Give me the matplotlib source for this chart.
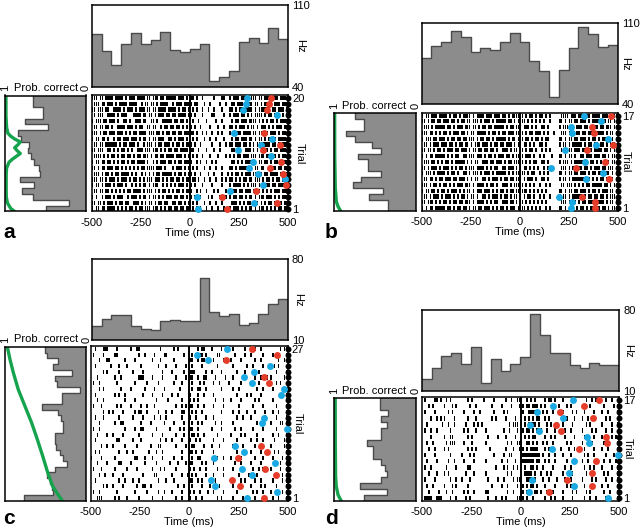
import numpy as np
import matplotlib
matplotlib.use("Agg")
import matplotlib.pyplot as plt

plt.rcParams['font.family'] = ['Liberation Sans', 'DejaVu Sans']

# ---------------- data ----------------
psth_a = [85.4, 70.3, 58.9, 76.6, 86.3, 76.6, 79.7, 87.1, 71.1, 69.7,
          72.6, 76.6, 44.9, 48.0, 53.1, 78.0, 82.0, 77.1, 90.0, 80.6]
psth_b = [79.8, 90.7, 94.2, 103.4, 98.5, 84.7, 88.4, 87.2, 93.6, 101.9,
          94.2, 76.9, 68.8, 46.4, 69.7, 88.4, 106.5, 100.5, 89.8, 91.0]
psth_c = [22.1, 27.9, 31.4, 31.4, 22.4, 19.8, 18.7, 26.5, 27.3, 26.5,
          26.5, 63.5, 34.0, 30.8, 32.8, 23.0, 25.0, 32.3, 41.2, 45.6]
psth_d = [20.1, 29.6, 40.5, 42.6, 33.1, 48.3, 17.2, 37.4, 27.3, 33.1,
          39.7, 76.3, 58.4, 42.6, 42.6, 32.5, 29.6, 33.9, 32.5, 32.5]
hz_a = (40, 110)
hz_b = (40, 110)
hz_c = (10, 80)
hz_d = (10, 80)

# raster rows, top trial first; each char = 10 ms from -500 ms, '#' = spike
raster_a = [
    "###.##.### #.####.#.# ##.####.## .###.##.## ###.###.#. ##.#..#... ..#...##.. #.###.#### .###.##.## ##.##.###.",
    ".###.##.## #.#.####.# ###..#.##. ##.#.####. .#.###.### #.##...#.. #....#..#. .##.###.## ##.##.#.## .#.###.###",
    "##.###.##. .####.#.## #.#.###.## .##.####.# ###.#.##.# .#.#..#..# ..#...#... ##.#.##.## ##.#.##### #.##.###.#",
    ".#.###..## ##.#.###.. .####.##.# #.#.###.## .##.####.# #.#...#... .##....#.. #.###.##.# .#.####.#. ##.###.#.#",
    "#.###.##.# ##.#..##.# ..###.##.. ##.#..#### #.##.##.#. .#..#...#. ...#..#... .#.##.###. ####.#.#.# .##.#.####",
    ".##.##.##. #..####.## #.#.##..## .##..#.##. ##.##.#.#. #.#..#.... #...#..#.. ##.#.###.# .##.#.###. #.#.###.##",
    "###.#.##.# ##.###.#.# .##.####.# ##.##.#.## .##.##.### ##.#..#.#. .#..#.#... #.#.##.### #.##.###.# .###.#.##.",
    "#.##.##.#. .#.##.###. ###.#.##.# .##.###..# #.#.###.#. .#.#...#.. #..#...#.. .#.##.###. ##.#.##.#. ##.#.####.",
    ".##.##.### ###.#.##.# ##.#..#.## #.#.##.### .#.##.#.## #.#..#.... .#...#..#. ##.###.##. #.#.##.### #.##.#.###",
    "##.###..## .#.#.##.#. #..###.### .###.#.#.# #.##.####. ##..#...#. ..#..#.... .##.##..## #.#.#.##.# .#.##.###.",
    ".####.#.#. ##.#.##.## .#.##.###. #.##.##.## ##.###.#.# .#.#..#... #...#...#. #.#.##.### .###.###.# ##.#.#.##.",
    "#.##.##.## .#.#.##.#. ##.####.#. .#.#.###.# #.#.##.### #..#.#..#. .#.#...... .##.#.#.## ##.#.##.## .#.##.####",
    "##.#.##.## #.##.#.#.# .#.#.##.## ##.###.#.. .#.###.#.# .#.#...#.. #..#..#... ##.#.####. .#.##.##.. #.##.##.##",
    ".###.#.##. #.##.####. #.#..#.#.# .#.##.#### #.#.##.#.# #.#..#...# ..#...#..# .#.##.#.## #.##.##.## .####.#.##",
    "###.##.#.# ##.#.###.# .##.#.#.## #.###.#.#. ##.##.#.## .##.#..#.. #..#..#.#. ##.#.#.##. ##.###.#.# #.#.##.##.",
    "#.##.#.### .#.###.#.. #.#.#.##.# .###..#.#. #.#.###.#. #.#...#... .#....#... #.####.#.# .###.#.#.# #.##.###.#",
    ".##.##.##. #.#.#.#.## .####.#.## #.#.#.##.# .#.##.#.## #..#.#..#. ..#.#...#. .###.##.## #.#.##.#.# .#.###.###",
    "#.#..#.### .#.###..#. ###.#.##.# .##.#.#.## #.##.##.#. #.#..#...# .#...#..#. #.##.##.#. ##.#.###.# ##.#.#.###",
    "##.##.#.## #.#.##.##. .###.#.#.# #.#.##.##. .##.##.#.# .#.#...#.. #..#..#... .###.#.#.# #.###.#.#. ##.##.#.##",
    "#.##.##.## ##.#.#.#.# #.#.##.### .###.#.#.# #.##.##.## .#.#.#..#. .#..#..#.. #.###.#.#. ##.#.###.# .#.#.##.##",
]
raster_b = [
    "#.##.###.# ###.#.##.# .####.#.## ##.###.### .##.#.#### ##.#.##.#. ##.#.#.... .####.###. ###.##.### #.###.#.##",
    "##.#.##.## .###.##.#. ##.##.###. #.###.#.## ###.##.#.# .##.#.#.#. #.#..#.... ##.#.##.## .###.#.### ##.#.##.#.",
    ".###.#.### ##.##.#.## #.###.##.# .##.##.### ##.#.##.## #.###.#.#. .##.#..... #.###.##.# ##.##.#### .##.###.##",
    "###.##.#.# .##.#.###. ##.#.##.## ###.#.##.# .##.###.## ##.#.##.## #.#.#..#.. .###.###.# #.##.###.# ###.#.##.#",
    "#.###.##.# ##.#.##.## .##.###.#. ##.##.#.## ###.#.##.# .#.##.#.## .#.##..... ##.#.##.## .###.#.##. #.###.##.#",
    ".##.#.###. ###.##.#.# #.##.#.### .###.#.##. ##.###.#.# #.##.#.#.. ##.#...... #.##.#.### ##.#.##.## .##.#.###.",
    "##.##.#.## .#.###.##. ###.#.##.# #.##.##.#. .###.#.##. ##.#.##.#. .#.#.#.... .##.###.## #.###.#.## ##.##.#.##",
    "#.#.##.### ##.#.#.##. .##.###.## #.#.##.#.# ##.##.#.## .#.###.#.. #.#...#... ##.#.##.#. .##.###.## #.##.#.###",
    ".###.##.#. #.##.#.### ##.#.#.##. .###.##.## #.#.##.### ##.#.#.##. .##.#..... #.###.#.## ###.#.##.# .#.###.##.",
    "##.#.###.# .###.#.#.# #.#.###.## ##.#.#.##. .##.###.#. #.##.#.#.# ..#.##.... .###.#.### ##.##.#.## #.##.###.#",
    "#.###.#.## ##.#.##.#. .##.#.###. #.###.#.## ###.#.#.## .##.#.##.. #.#.#..... ##.#.##.## .###.#.##. ##.###.#.#",
    ".##.##.#.# #.###.##.# ##.#.#.##. .##.#.###. #.##.##.## #.#.###.#. .##.#..... #.##.#.### ###.##.#.# .##.#.##.#",
    "###.#.##.# .##.#.#.## #.###.#.## ##.#.##.#. .###.#.### ##.#.#.#.. #..#.#.... .##.###.#. #.#.##.### ##.##.#.##",
    "#.##.##.#. ##.#.###.# .#.##.#.## #.###.#.#. ##.#.##.## .###.#.#.# .#.#...... ##.#.##.## .###.#.##. #.###.##.#",
    ".##.#.###. #.###.#.#. ##.#.##.#. .##.#.###. #.##.#.##. #.#.##.#.. #.#..#.... #.##.#.### ##.#.##.## .##.#.###.",
    "##.###.#.# .##.#.##.# #.###.#.## ##.#.#.##. .###.##.#. ##.#.#.#.# .#.#...... .###.#.##. #.##.###.# ###.#.##.#",
    "#.#.##.### ##.##.#.## .##.#.##.# #.###.#.#. ##.#.###.# .##.#.#.#. #..#.#.... ##.#.###.# .##.#.##.# #.##.#.###",
]
raster_c = [
    "..#...###. ...#...... #..##..... .....#.... ..#.#..... ....#.##.. .#....#... ..#.....#. ...#..#... ......#.##",
    ".#....#... ..##...... ....#..#.. ..#....##. .......#.. .#...##.#. ....##.... ...#....#. .#.....#.. ..#.#....#",
    "....#...## .......#.. ..#....... .#...#.... ..#....... ##..#.##.. ..#....#.. .#....#... ...#..#... .....#..#.",
    "..#....... #...#...#. .....#.... ....#...#. ...#....#. .#....#... ....#..... ..#......# ..#....#.. ...#.#....",
    "......#.#. ....#..... .#....#... ......#... .#.....#.. ###.....#. .#....#... ....#...#. .....#.... ....#....#",
    "...#...... ..#..#.... ....###... .#....#... ...#....#. ##..#..##. ...#....#. ..#....... ...#..#..# .#......#.",
    ".#..#..... ...#...... ..#.....#. ....#..... ..#...#... .#...#.#.. ..#..#.... #.....#... ..#..#.... ....#.#...",
    "....#.#... .....#.... #......#.. ..#....#.. .....#.... .#..##..#. ......#... ..#..#.... ....#..#.. ..#.....##",
    "..#....... ..#.#..#.. ......#... .#....#... .#..#..... #...#..#.. ..#....... ....#....# .#....#... ......#..#",
    "...#..#... .......#.. ..#....... ...#.....# ......#... #.#.#..... ...#...#.. .#....#... ...#.#.... ..#......#",
    ".#...#.... ...#.#.... #....#..#. ..#....... ...#..#.#. ##..#..#.. ..#....#.. .....#.... ..#....#.. ....#....#",
    "......#..# .#....#... ..#.##..#. ....#...#. .#....##.. .#.#..#... ......#... ..#..#...# ...#....#. ..#..#...#",
    "..#...#... ....#..... .#....#... ..#..#..#. ......#... #..#....#. ..#....... ....#..#.. .#......#. ....#....#",
    "....#..... ..#..##... .....#.... #......#.. ..#....#.. .#..#.#... ...#..#... ..#....... ....#.#... .#....##.#",
    ".#..#..... .......#.. ..#..##... ...#...... #....#.#.. ##..#..... .#....#... ...#..#... ..#....#.. ....#....#",
    "...#....#. .#....#... ....#..... .#....#... ...#...#.. .##.#..#.. ....#..... .#....#.#. ....#..... ..#..#...#",
    "..#....... ...##..... .#...#.... .....#..#. .#....#... #..#.#.... ..#....#.. ....#..... .#..#..#.. ...#....##",
    ".....#..#. .#.....#.. ...#...... #...##.... ...#....#. .##....#.. .#...#.... ..#....#.. ...#..#... .#......##",
    "..#.#..... ....#...#. .#.......# ...#..#... ......#... ##.#..#... ..#....... ....#..#.. .#....#... ...#.#...#",
    "#....#.... ..#....... ..##...#.. .#....#... ..#...#... .#..##.... ....#..#.. .#....#... ...#...#.. ..#....#.#",
    "...#....#. ....##.... #......#.. ...#...... #...#...#. ##....#.#. ..#....... ...#..#... .#....#... ......#..#",
    ".#...#.... ..#.....#. ...#...... .#...#.#.. ...#...... #.#..#..#. ....#..#.. ..#....... ..#..#.#.. .#....#..#",
    "....#..#.. .#....#... ......#... ..##...... .#....#..# .#.#....#. ..#....#.. .....#.... #...#..... ...#...#.#",
    "..#....... ....#..#.. .#..#..... ....#...#. ..#....... ##..#.#... ...#...... .#....#.#. ...#..#... ..#....#.#",
    "......#.#. .#....#... ...#..##.. #......... ....#..#.. .#....#... #....#.... ..#....... .#....#.#. ....#....#",
    ".#..#..... ...#...... ..#.....#. ....#..#.. .#....#... #.#..#...# ..#....#.. ....#..... ..#.#..#.. .#.....#.#",
    "...###.... ..#.#...#. ....#..... .#....#... ...#..#... #..#..#... ....#.#... ..#....#.. ...#....#. ..#..#...#",
]
raster_d = [
    ".#....##.# ..#.#..... ...#.#.... .#....#... ..#..#..## #..#.#.#.. ..#.##.#.. .#....#... ...#..#.#. ...#..#...",
    "...#.#.... .#...#.#.. ....#..#.. .....#.... #....#...# .#.##.###. #.#...#..# ...#.#.... .#...#.... ..#....#.#",
    ".#....#... ...#.#.... .#....#..# ......#... .#.#...... .#..####.# .#.#..#... .#....#.#. ..#....#.. .#..#....#",
    "....#..#.# .#....#... ...#...#.. .....#.#.. ..#....#.. #.#.#.#.## ..#.#..... ...#...#.. .#..#..#.. ...#.#....",
    "..#....... #..#..#... ..#...#.#. #......... ....#.###. #.#.####.# ...#.#..#. .#....#... ...#.#.... .#....#..#",
    ".#..#..#.. ....#..... .#.#...#.. ..#....... .#..#...#. .#.##.#.## #..#...#.. ..#..#.... .#....#.#. ...#..#...",
    "....#..... .#..##.... ...#.#.... ...#....#. ..#....#.. #.#.#.##.. ..#..#.#.. ..#....#.. ..#.#..#.. .#....#.#.",
    "..#..#.... ..#.###... .#...#.... ..#....... ...#.#..## #..##.#.#. .#.#..#... ...#.#.... .#....#... ..#.#....#",
    "...#..#... .#.#...... ...#.#.#.. ....#..... ..#...#..# .#.#.####. ..#.#..... #...#..#.. ..#....#.. .#..#....#",
    ".#....#... ....#..... #...#.#... ......#... .#..##.... .######### .#..#..#.. .#...#.... ..#.#..#.. ...#...#.#",
    "..#....#.. ...#..#... .#....#... ..#....... #..#...#.. .######.## ..#.#..#.. ...#....#. .#..#..... ..#..#..#.",
    ".#..#..... ..#....#.. ...##..... .......#.. .#.#..#.#. #.#..##.#. .#....#... ..#..#.... ..#..#.#.. .#....#..#",
    "...#...#.. .#.#...... ..#...#... ..#....... ...#.#.... #.####.#.. #..#.#.... .#....#... ...#..#... ..#.#....#",
    ".#....#... ....#..#.. #...#..... ...#....#. .#....#.## #..###.#.. .#..#...#. ..#..#.... .#....#.#. ...#..#..#",
    "..#..#.... .#...#.#.. ...#...... .....#.... #..#....#. .#.#.##.#. ..#....#.. ...#.#.... ..#....#.. .#..#....#",
    "...#....#. ..#..#.... .#.#..#... ..##...... ...#..#... ##.#.#.##. #..#..#... .#....#.#. ...#.#.... ..#..#...#",
    ".####..### ....#..#.. ..#.#..... ...#...#.. #.#.....## .#.#..#... ..#..#.#.. .#....#... ..#..#..#. ...#.#...#",
]

nan = float('nan')
# event times (ms), top trial first
blue_a = [292, 284, 270, 445, nan, nan, 224, 420, 360, 246, 415, 323, 300, 348, 485, 372, 207, 37, 326, 42]
red_a = [415, 403, 394, nan, nan, nan, 377, nan, 459, 372, nan, 466, 408, 476, nan, 491, 335, 164, 442, 190]
blue_b = [329, 415, 264, 269, 449, 389, 232, nan, 334, 158, 428, 338, nan, nan, 201, 269, 264]
red_b = [466, nan, 372, 380, nan, 478, 346, nan, 437, 286, nan, 457, nan, nan, 321, 385, 384]
blue_c = [195, 39, 98, 412, 331, 280, 322, 483, 466, nan, nan, nan, 381, 369, 497, nan, nan,
          234, 280, 124, 437, 271, 319, 112, 132, 449, 293]
red_c = [322, 449, 188, nan, nan, 381, 408, nan, nan, nan, nan, nan, nan, nan, nan, nan, nan,
         364, 398, 251, nan, 386, 442, 217, 259, nan, 383]
blue_d = [265, 164, 83, 215, 49, 95, 340, 350, 159, 497, 272, nan, 248, 57, 272, 41, 446]
red_d = [400, 324, 198, 367, 181, 204, 432, 441, 297, nan, 383, nan, 365, 235, 361, 147, nan]

# per-trial activity bars at left (fraction of panel width), top trial first
rate_a = [0.656, 0.656, 0.534, 0.534, 0.757, 0.462, 0.838, 0.798, 0.704, 0.717,
          0.676, 0.636, 0.575, 0.567, 0.818, 0.636, 0.785, 0.656, 0.202, 0.494]
rate_b = [0.738, 0.631, 0.631, 0.848, 0.746, 0.533, 0.426, 0.705, 0.582, 0.582,
          0.426, 0.664, 0.766, 0.398, 0.566, 0.336, 0.336]
rate_c = [0.506, 0.486, 0.342, 0.412, 0.177, 0.383, 0.362, 0.074, 0.300, 0.300,
          0.547, 0.342, 0.313, 0.288, 0.280, 0.383, 0.383, 0.370, 0.321, 0.280,
          0.239, 0.383, 0.477, 0.444, 0.424, 0.403, 0.765]
rate_d = [0.439, 0.439, 0.336, 0.426, 0.344, 0.426, 0.426, 0.590, 0.520, 0.520,
          0.426, 0.369, 0.344, 0.418, 0.684, 0.344, 0.631]

# probability-correct curves (trial position, probability)
pc_a_trial = [20.5, 20, 19, 18, 17, 16, 15, 14, 13.5, 13, 12.5, 12, 11.5, 11, 10.5, 10,
              9.5, 9, 8, 7, 6, 5, 4, 3, 2, 1.5, 1, 0.5]
pc_a_p = [0.988, 0.988, 0.988, 0.988, 0.988, 0.984, 0.98, 0.964, 0.93, 0.88, 0.81, 0.84,
          0.88, 0.85, 0.81, 0.86, 0.91, 0.95, 0.98, 0.985, 0.985, 0.985, 0.985, 0.984,
          0.97, 0.95, 0.927, 0.88]
pc_b_trial = [17.5, 10, 4.5, 2.1, 1.3, 0.5]
pc_b_p = [0.992, 0.991, 0.984, 0.971, 0.951, 0.918]
pc_c_trial = [27.5, 25.3, 23.0, 20.0, 17.1, 14.2, 11.3, 8.4, 5.5, 3.1, 1.5, 0.5]
pc_c_p = [0.971, 0.938, 0.897, 0.835, 0.753, 0.671, 0.601, 0.535, 0.473, 0.412, 0.34, 0.29]
pc_d_trial = [17.5, 10, 4.5, 2.9, 1.5, 0.5]
pc_d_p = [0.985, 0.984, 0.98, 0.972, 0.95, 0.91]

xticks = [-500, -250, 0, 250, 500]
xticklabels = ['-500', '-250', '0', '250', '500']

# ---------------- styling / layout ----------------
GREY = '#8c8c8c'
EDGE = '#4a4a4a'
BLUE = '#1aa9e2'
RED = '#e63d2b'
GREEN = '#16a34e'
FS = 8
W, H = 640.0, 529.0

fig = plt.figure(figsize=(6.4, 5.29), dpi=100)


def add_ax(r):
    x0, y0, x1, y1 = r
    return fig.add_axes([x0 / W, 1 - y1 / H, (x1 - x0) / W, (y1 - y0) / H])


def frame(ax):
    for s in ax.spines.values():
        s.set_linewidth(1.1)
        s.set_color('black')


def panel(letter, rects, psth, hz, rows, blue, red, rate, pc_t, pc_p, lab_dx):
    n = len(rows)
    trials = np.arange(n, 0, -1)  # top row first

    # PSTH
    ax = add_ax(rects['psth'])
    edges = np.linspace(-500, 500, len(psth) + 1)
    vals = np.append(psth, psth[-1])
    ax.fill_between(edges, hz[0], vals, step='post', facecolor=GREY,
                    edgecolor='none')
    ax.step(edges, vals, where='post', color=EDGE, lw=1.0)
    ax.set_xlim(-500, 500)
    ax.set_ylim(*hz)
    ax.set_xticks([])
    ax.yaxis.tick_right()
    ax.set_yticks(list(hz))
    ax.set_yticklabels([str(v) for v in hz])
    ax.tick_params(length=0, labelsize=FS, pad=3)
    ax.text(1 + lab_dx / (rects['psth'][2] - rects['psth'][0]), 0.5, 'Hz',
            rotation=270, transform=ax.transAxes, ha='center', va='center',
            fontsize=FS)
    frame(ax)

    # raster
    ax = add_ax(rects['raster'])
    for row, tr in zip(rows, trials):
        s = row.replace(' ', '')
        segs = [(-500 + 10 * j, 9.0) for j, c in enumerate(s) if c == '#']
        ax.broken_barh(segs, (tr - 0.36, 0.72), facecolors='black',
                       edgecolors='none')
    ax.axvline(0, color='black', lw=1.4)
    ax.plot(np.full(n, 500.0), trials, 'o', color='black', ms=4.3, mew=0,
            clip_on=False, zorder=3)
    ax.plot(blue, trials, 'o', color=BLUE, ms=5.0, mew=0, clip_on=False, zorder=4)
    ax.plot(red, trials, 'o', color=RED, ms=5.0, mew=0, clip_on=False, zorder=4)
    ax.set_xlim(-500, 500)
    ax.set_ylim(0.5, n + 0.5)
    ax.set_xticks(xticks)
    ax.set_xticklabels(xticklabels)
    ax.yaxis.tick_right()
    ax.set_yticks([1, n])
    ax.set_yticklabels(['1', str(n)])
    ax.tick_params(axis='y', length=0, labelsize=FS, pad=3)
    ax.tick_params(axis='x', length=0, labelsize=FS, pad=4.5)
    ax.set_xlabel('Time (ms)', fontsize=FS, labelpad=0)
    ax.text(1 + lab_dx / (rects['raster'][2] - rects['raster'][0]), 0.5, 'Trial',
            rotation=270, transform=ax.transAxes, ha='center', va='center',
            fontsize=FS)
    frame(ax)

    # probability correct panel
    ax = add_ax(rects['prob'])
    yedges = np.arange(n + 1) + 0.5
    r = list(reversed(rate))  # trial 1 first
    xv = np.append(r, r[-1])
    ax.fill_betweenx(yedges, 0, xv, step='post', facecolor=GREY, edgecolor='none')
    ax.step(xv, yedges, where='pre', color=EDGE, lw=1.0)
    ax.plot(pc_p, pc_t, color=GREEN, lw=2.4, solid_capstyle='round')
    ax.set_xlim(1, 0)
    ax.set_ylim(0.5, n + 0.5)
    ax.set_xticks([])
    ax.set_yticks([])
    frame(ax)

    # labels
    px0, py0, px1, py1 = rects['prob']
    ly = py0 - 7.5
    fig.text((px0 + 0.5) / W, 1 - ly / H, '1', rotation=90, ha='center',
             va='center', fontsize=FS)
    fig.text((px0 + 8.5) / W, 1 - ly / H, 'Prob. correct', ha='left',
             va='center', fontsize=FS)
    fig.text((px1 + 0.5) / W, 1 - ly / H, '0', rotation=90, ha='center',
             va='center', fontsize=FS)


rects_a = dict(psth=(91.7, 5, 288, 86.7), raster=(91.7, 95, 288, 211.5),
               prob=(5, 95.5, 85.5, 211.5))
rects_b = dict(psth=(421.7, 23.3, 617.5, 104), raster=(421.7, 112.7, 617.5, 211),
               prob=(334, 113.3, 415.5, 211))
rects_c = dict(psth=(91.7, 259.3, 287.7, 340), raster=(90.7, 346, 287.5, 500.5),
               prob=(5, 347, 86, 501))
rects_d = dict(psth=(421.7, 310, 619, 391), raster=(422, 397, 619, 501),
               prob=(334, 398, 415.5, 501))

panel('a', rects_a, psth_a, hz_a, raster_a, blue_a, red_a, rate_a, pc_a_trial, pc_a_p, 12)
panel('b', rects_b, psth_b, hz_b, raster_b, blue_b, red_b, rate_b, pc_b_trial, pc_b_p, 8)
panel('c', rects_c, psth_c, hz_c, raster_c, blue_c, red_c, rate_c, pc_c_trial, pc_c_p, 10)
panel('d', rects_d, psth_d, hz_d, raster_d, blue_d, red_d, rate_d, pc_d_trial, pc_d_p, 9)

for letter, (x, y) in zip('abcd', [(3, 233), (325, 233), (3, 519), (325, 519)]):
    fig.text(x / W, 1 - y / H, letter, fontsize=15, fontweight='bold',
             ha='left', va='center')

fig.savefig('out.png', dpi=100)
